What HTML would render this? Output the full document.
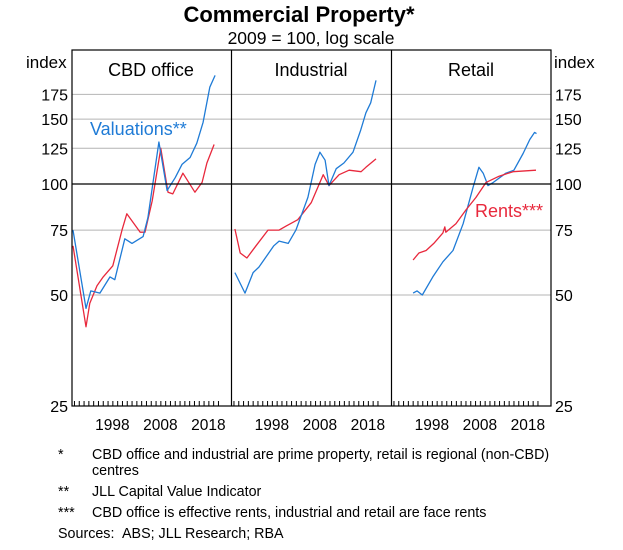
<!DOCTYPE html>
<html><head><meta charset="utf-8">
<style>
body{margin:0;background:#fff;}
svg text{font-family:"Liberation Sans",Arial,sans-serif;}
</style></head>
<body>
<svg id="chart" width="623" height="545" viewBox="0 0 623 545" xmlns="http://www.w3.org/2000/svg">
<text x="299" y="22" text-anchor="middle" font-size="22" font-weight="bold">Commercial Property*</text>
<text x="311" y="44" text-anchor="middle" font-size="17.5">2009 = 100, log scale</text>
<text x="26" y="68" font-size="17">index</text>
<text x="554" y="68" font-size="17">index</text>
<g id="grid"></g>
<g id="series"></g>
<g id="frame"></g>
<text x="151" y="76" text-anchor="middle" font-size="18">CBD office</text>
<text x="311" y="76" text-anchor="middle" font-size="18">Industrial</text>
<text x="471" y="76" text-anchor="middle" font-size="18">Retail</text>
<text x="90" y="135" font-size="18" fill="#1f7bd6">Valuations**</text>
<text x="475" y="217" font-size="18" fill="#e8283c">Rents***</text>
<g font-size="14.3">
<text x="58" y="459">*</text><text x="92" y="459">CBD office and industrial are prime property, retail is regional (non-CBD)</text>
<text x="92" y="475">centres</text>
<text x="58" y="496">**</text><text x="92" y="496">JLL Capital Value Indicator</text>
<text x="58" y="517">***</text><text x="92" y="517">CBD office is effective rents, industrial and retail are face rents</text>
<text x="58" y="538">Sources:</text><text x="122" y="538">ABS; JLL Research; RBA</text>
</g>
</svg>
<script>
const yTicks=[25,50,75,100,125,150,175];
const xLabels=[1998,2008,2018];
const cbdValYears=[1989.8,1992.5,1993.5,1995.4,1997.5,1998.5,2000.6,2002.1,2004.4,2005.4,2007.7,2009.4,2011.1,2012.5,2014.2,2015.6,2016.9,2018.3,2019.4];
const cbdValValues=[75,46,51.3,50.6,56,55,71,69,72,81,130,96,104,113,118,129,147,183,197];
const cbdRentYears=[1989.8,1992.5,1993.3,1994.8,1996.1,1998.1,2000,2001,2003.8,2004.8,2006.3,2008.1,2009.6,2010.6,2012.7,2015.2,2016.7,2017.7,2019.2];
const cbdRentValues=[68,41,47.5,53,56,60,75,83,74,74,90,125,95,94,107,95,101,114,128];
const indValYears=[1990.3,1992.4,1994.1,1995.3,1998.4,1999.5,2001.4,2003,2005.5,2007,2008,2009.1,2009.9,2011.4,2013,2014.9,2016.5,2017.6,2018.6,2019.7];
const indValValues=[57.5,50.6,57.5,59.5,68,70,69,75,92,113,122,116,99,110,114,122,140,156,166,191];
const indRentYears=[1990.3,1991.4,1992.8,1994.7,1997.2,1999.5,2001,2003.4,2006.2,2008.7,2009.9,2012,2014.1,2016.6,2017.6,2019.7];
const indRentValues=[75.5,65,63,68,75,75,77,80,89,106,99,106,109,108,111,117];
const retValYears=[1994.1,1994.9,1996,1998.2,2000.3,2002.4,2004.5,2006.6,2007.8,2008.7,2009.7,2010.8,2013.4,2015.1,2017,2018.4,2019.4,2019.8];
const retValValues=[50.6,51.3,50,56,61.5,66,78,98,111,107,99,101,107,109,121,132,138,137];
const retRentYears=[1994.1,1995.3,1996.8,1998.4,2000.3,2000.7,2000.9,2003,2005.1,2007.2,2009.3,2012,2014.9,2019.7];
const retRentValues=[62.2,65,66,69,73.7,76.5,74,78,85,92,101,105,108,109];

const NS="http://www.w3.org/2000/svg";
const top0=50,bot=406,L=72,R=551;
const panels=[72,231.5,391.5];
function y(v){return 184-111*Math.log2(v/100);}
function x(p,yr){return panels[p]+1+(yr-1989.8)*4.8;}
function mk(tag,attrs,parent){const e=document.createElementNS(NS,tag);for(const k in attrs)e.setAttribute(k,attrs[k]);document.getElementById(parent).appendChild(e);return e;}
yTicks.forEach(v=>{
  if(v!==25&&v!==100){
    const g=mk('line',{x1:L,x2:R,y1:y(v),y2:y(v),stroke:'#b4b4b4','stroke-width':1},'grid');
    
    
  }
  const t1=mk('text',{x:68,y:y(v)+6,'text-anchor':'end','font-size':16},'grid');t1.textContent=v;
  
  
  const t2=mk('text',{x:555,y:y(v)+6,'font-size':16},'grid');t2.textContent=v;
  
  
});
const base=mk('line',{x1:L,x2:R,y1:y(100),y2:y(100),stroke:'#000','stroke-width':1.2},'frame');


const fr=mk('rect',{x:L,y:top0,width:R-L,height:bot-top0,fill:'none',stroke:'#000','stroke-width':1.2},'frame');


[231.5,391.5].forEach((px,i)=>{const d=mk('line',{x1:px,x2:px,y1:top0,y2:bot,stroke:'#000','stroke-width':1.2},'frame');

});
for(let p=0;p<3;p++){
  for(let yr=1990;yr<=2020;yr++){
    const t=mk('line',{x1:x(p,yr)+0.5,x2:x(p,yr)+0.5,y1:bot,y2:bot-5,stroke:'#000','stroke-width':1},'frame');
    
    
  }
  xLabels.forEach(yr=>{const t=mk('text',{x:x(p,yr),y:430,'text-anchor':'middle','font-size':15.5},'frame');t.textContent=yr;
    
    });
}
function line(p,ys,vs,col,name){
  const d=ys.map((yr,i)=>(i?'L':'M')+x(p,yr).toFixed(1)+','+y(vs[i]).toFixed(1)).join('');
  const e=mk('path',{d:d,fill:'none',stroke:col,'stroke-width':1.3,'stroke-linejoin':'round'},'series');
  
  
}
const BLUE='#1f7bd6',RED='#e8283c';
line(0,cbdRentYears,cbdRentValues,RED,'cbd-rents-line');
line(0,cbdValYears,cbdValValues,BLUE,'cbd-valuations-line');
line(1,indRentYears,indRentValues,RED,'industrial-rents-line');
line(1,indValYears,indValValues,BLUE,'industrial-valuations-line');
line(2,retValYears,retValValues,BLUE,'retail-valuations-line');
line(2,retRentYears,retRentValues,RED,'retail-rents-line');
</script>
</body></html>
